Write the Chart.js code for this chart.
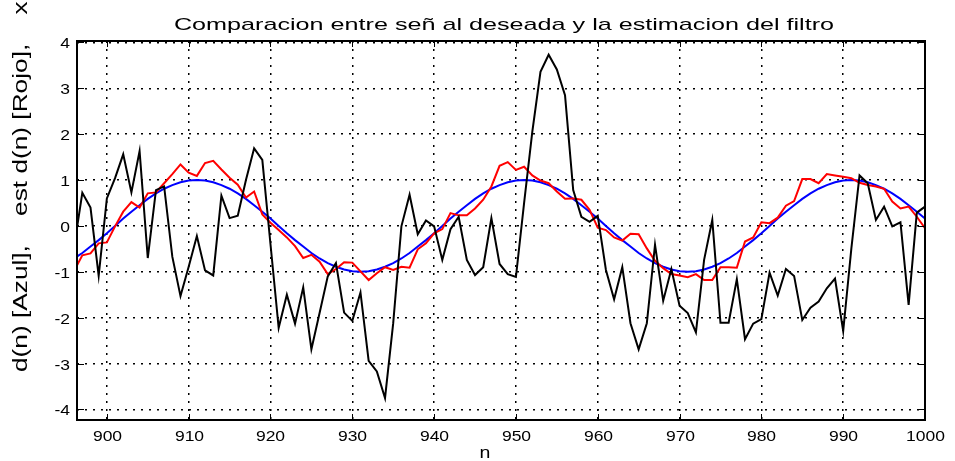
<!DOCTYPE html>
<html>
<head>
<meta charset="utf-8">
<script src="https://cdn.jsdelivr.net/npm/chart.js"></script>
<style>
    body { margin: 0; background: #fff; }
</style>
</head>
<body>
<canvas id="grafico" width="955" height="461"></canvas>
<script>
// muestras n
const n = [
    896, 897, 898, 899, 900, 901, 902, 903, 904, 905,
    906, 907, 908, 909, 910, 911, 912, 913, 914, 915,
    916, 917, 918, 919, 920, 921, 922, 923, 924, 925,
    926, 927, 928, 929, 930, 931, 932, 933, 934, 935,
    936, 937, 938, 939, 940, 941, 942, 943, 944, 945,
    946, 947, 948, 949, 950, 951, 952, 953, 954, 955,
    956, 957, 958, 959, 960, 961, 962, 963, 964, 965,
    966, 967, 968, 969, 970, 971, 972, 973, 974, 975,
    976, 977, 978, 979, 980, 981, 982, 983, 984, 985,
    986, 987, 988, 989, 990, 991, 992, 993, 994, 995,
    996, 997, 998, 999, 1000
]

// xn (negro)
const xn = [
    -0.45, 0.72, 0.40, -1.09, 0.60, 1.04, 1.56, 0.73, 1.63, -0.70,
    0.78, 0.86, -0.67, -1.53, -0.89, -0.22, -0.97, -1.08, 0.66, 0.17,
    0.22, 1.00, 1.69, 1.44, -0.40, -2.22, -1.50, -2.13, -1.34, -2.69,
    -1.90, -1.10, -0.81, -1.89, -2.07, -1.45, -2.94, -3.17, -3.75, -2.12,
    -0.01, 0.68, -0.18, 0.12, -0.01, -0.74, -0.07, 0.20, -0.74, -1.07,
    -0.90, 0.17, -0.83, -1.05, -1.11, 0.50, 2.05, 3.36, 3.73, 3.41,
    2.85, 0.78, 0.20, 0.09, 0.22, -0.96, -1.60, -0.90, -2.12, -2.69,
    -2.12, -0.41, -1.63, -0.94, -1.74, -1.90, -2.32, -0.74, 0.13, -2.11,
    -2.11, -1.16, -2.47, -2.13, -2.03, -1.02, -1.52, -0.94, -1.09, -2.05,
    -1.78, -1.65, -1.36, -1.15, -2.29, -0.49, 1.10, 0.93, 0.13, 0.42,
    -0.01, 0.08, -1.72, 0.29, 0.42
]

// d(n) (azul)
const dn = [
    -0.71, -0.59, -0.45, -0.31, -0.16, 0, 0.16, 0.31, 0.45, 0.59,
    0.71, 0.81, 0.89, 0.95, 0.99, 1, 0.99, 0.95, 0.89, 0.81,
    0.71, 0.59, 0.45, 0.31, 0.16, 0, -0.16, -0.31, -0.45, -0.59,
    -0.71, -0.81, -0.89, -0.95, -0.99, -1, -0.99, -0.95, -0.89, -0.81,
    -0.71, -0.59, -0.45, -0.31, -0.16, 0, 0.16, 0.31, 0.45, 0.59,
    0.71, 0.81, 0.89, 0.95, 0.99, 1, 0.99, 0.95, 0.89, 0.81,
    0.71, 0.59, 0.45, 0.31, 0.16, 0, -0.16, -0.31, -0.45, -0.59,
    -0.71, -0.81, -0.89, -0.95, -0.99, -1, -0.99, -0.95, -0.89, -0.81,
    -0.71, -0.59, -0.45, -0.31, -0.16, 0, 0.16, 0.31, 0.45, 0.59,
    0.71, 0.81, 0.89, 0.95, 0.99, 1, 0.99, 0.95, 0.89, 0.81,
    0.71, 0.59, 0.45, 0.31, 0.16
]

// est d(n) (rojo)
const estDn = [
    -0.98, -0.64, -0.60, -0.38, -0.36, -0.01, 0.31, 0.52, 0.40, 0.71,
    0.73, 0.93, 1.13, 1.34, 1.16, 1.09, 1.37, 1.42, 1.23, 1.05,
    0.90, 0.62, 0.75, 0.25, 0.07, -0.09, -0.25, -0.44, -0.70, -0.63,
    -0.78, -1.05, -0.94, -0.79, -0.80, -0.99, -1.18, -1.03, -0.90, -0.96,
    -0.89, -0.91, -0.51, -0.38, -0.16, -0.07, 0.28, 0.23, 0.23, 0.38,
    0.57, 0.86, 1.31, 1.39, 1.22, 1.29, 1.10, 0.99, 0.93, 0.75,
    0.59, 0.60, 0.57, 0.35, -0.04, -0.09, -0.25, -0.32, -0.17, -0.18,
    -0.49, -0.76, -0.92, -1.05, -1.08, -1.12, -1.05, -1.18, -1.18, -0.90,
    -0.90, -0.91, -0.34, -0.25, 0.08, 0.06, 0.18, 0.44, 0.54, 1.02,
    1.02, 0.93, 1.13, 1.10, 1.07, 1.04, 0.94, 0.89, 0.86, 0.81,
    0.53, 0.38, 0.42, 0.20, -0.05
]

const xTicks = [900, 910, 920, 930, 940, 950, 960, 970, 980, 990, 1000]
const yTicks = [-4, -3, -2, -1, 0, 1, 2, 3, 4]

const titulo = 'Comparacion entre señ al deseada y la estimacion del filtro'
const etiquetaY = 'd(n) [Azul],    est d(n) [Rojo],    xn'
const etiquetaX = 'n'

function puntos(valores) {
    return n.map((v, i) => ({ x: v, y: valores[i] }))
}

function texto(c, s, x, y, size, align, stretch) {
    c.save()
    c.translate(x, y)
    c.scale(stretch, 1)
    c.font = size + 'px "Liberation Sans", Arial, sans-serif'
    c.textAlign = align
    c.textBaseline = 'alphabetic'
    c.fillStyle = '#000'
    c.fillText(s, 0, 0)
    c.restore()
}

// marco, marcas hacia dentro y textos al estilo matlab
const marco = {
    id: 'marco',
    afterDraw(chart) {
        const c = chart.ctx
        const a = chart.chartArea
        const sx = chart.scales.x
        const sy = chart.scales.y

        c.save()
        c.strokeStyle = '#000'
        c.lineWidth = 1
        xTicks.forEach(t => {
            const px = Math.round(sx.getPixelForValue(t)) + 0.5
            c.beginPath()
            c.moveTo(px, a.bottom)
            c.lineTo(px, a.bottom - 6)
            c.moveTo(px, a.top)
            c.lineTo(px, a.top + 6)
            c.stroke()
            texto(c, String(t), px, a.bottom + 21, 14, 'center', 1.25)
        })
        yTicks.forEach(t => {
            const py = Math.round(sy.getPixelForValue(t)) + 0.5
            c.beginPath()
            c.moveTo(a.left, py)
            c.lineTo(a.left + 7, py)
            c.moveTo(a.right, py)
            c.lineTo(a.right - 7, py)
            c.stroke()
            texto(c, String(t), a.left - 7, py + 5, 14, 'right', 1.25)
        })
        c.lineWidth = 2
        c.strokeRect(a.left, a.top, a.right - a.left, a.bottom - a.top)
        c.restore()

        texto(c, titulo, 504, 30, 17, 'center', 1.48)
        texto(c, etiquetaX, 485, 458, 17, 'center', 1.15)

        c.save()
        c.translate(21, 372)
        c.rotate(-Math.PI / 2)
        c.scale(1.25, 1)
        c.font = '21px "Liberation Sans", Arial, sans-serif'
        c.textAlign = 'left'
        c.textBaseline = 'middle'
        c.fillStyle = '#000'
        c.fillText(etiquetaY, 0, 0)
        c.restore()
    }
}

const ctx = document.getElementById('grafico')

new Chart(ctx, {
    type: 'line',
    data: {
        datasets: [
            {
                label: 'xn',
                data: puntos(xn),
                borderColor: '#000000',
                borderWidth: 2,
                order: 0
            },
            {
                label: 'est d(n)',
                data: puntos(estDn),
                borderColor: '#ff0000',
                borderWidth: 2,
                order: 1
            },
            {
                label: 'd(n)',
                data: puntos(dn),
                borderColor: '#0000ff',
                borderWidth: 2,
                order: 2
            }
        ]
    },
    options: {
        responsive: false,
        animation: false,
        clip: 0,
        elements: {
            point: { radius: 0 },
            line: { tension: 0 }
        },
        layout: {
            padding: { top: 41, right: 30, left: 0, bottom: 0 }
        },
        plugins: {
            legend: { display: false },
            tooltip: { enabled: false },
            title: { display: false }
        },
        scales: {
            x: {
                type: 'linear',
                min: 896.35,
                max: 1000,
                afterBuildTicks: scale => {
                    scale.ticks = xTicks.map(v => ({ value: v }))
                },
                afterFit: scale => {
                    scale.height = 41
                },
                ticks: { display: false },
                grid: { color: '#000', lineWidth: 1.5, drawTicks: false },
                border: { display: false, dash: [2, 6] }
            },
            y: {
                min: -4.23,
                max: 4.03,
                afterBuildTicks: scale => {
                    scale.ticks = yTicks.map(v => ({ value: v }))
                },
                afterFit: scale => {
                    scale.width = 77
                },
                ticks: { display: false },
                grid: { color: '#000', lineWidth: 1.5, drawTicks: false },
                border: { display: false, dash: [2, 6] }
            }
        }
    },
    plugins: [marco]
})
</script>
</body>
</html>
